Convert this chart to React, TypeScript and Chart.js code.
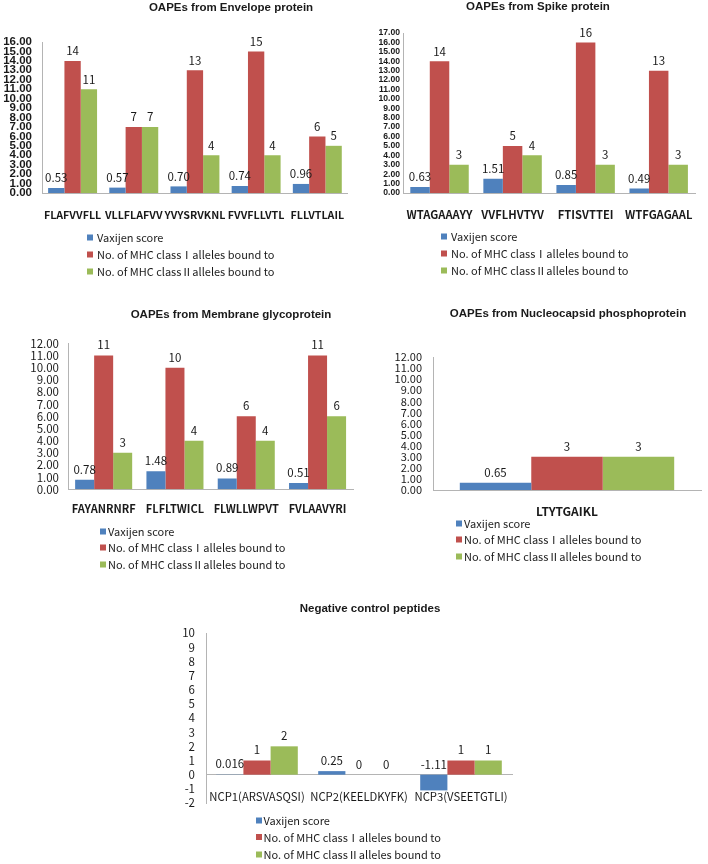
import React, { useEffect, useRef } from 'react';
import { Chart, registerables } from 'chart.js';

Chart.register(...registerables);

// ---------------- DATA ----------------
const seriesNames = [
  'Vaxijen score',
  'No. of MHC classⅠalleles bound to',
  'No. of MHC classⅡalleles bound to',
];

const envelopeCategories = ['FLAFVVFLL', 'VLLFLAFVV', 'YVYSRVKNL', 'FVVFLLVTL', 'FLLVTLAIL'];
const envelopeVaxijen = [0.53, 0.57, 0.7, 0.74, 0.96];
const envelopeMhc1 = [14, 7, 13, 15, 6];
const envelopeMhc2 = [11, 7, 4, 4, 5];
const envelopeYRange = [0, 16];

const spikeCategories = ['WTAGAAAYY', 'VVFLHVTYV', 'FTISVTTEI', 'WTFGAGAAL'];
const spikeVaxijen = [0.63, 1.51, 0.85, 0.49];
const spikeMhc1 = [14, 5, 16, 13];
const spikeMhc2 = [3, 4, 3, 3];
const spikeYRange = [0, 17];

const membraneCategories = ['FAYANRNRF', 'FLFLTWICL', 'FLWLLWPVT', 'FVLAAVYRI'];
const membraneVaxijen = [0.78, 1.48, 0.89, 0.51];
const membraneMhc1 = [11, 10, 6, 11];
const membraneMhc2 = [3, 4, 4, 6];
const membraneYRange = [0, 12];

const nucleoCategories = ['LTYTGAIKL'];
const nucleoVaxijen = [0.65];
const nucleoMhc1 = [3];
const nucleoMhc2 = [3];
const nucleoYRange = [0, 12];

const controlCategories = ['NCP1(ARSVASQSI)', 'NCP2(KEELDKYFK)', 'NCP3(VSEETGTLI)'];
const controlVaxijen = [0.016, 0.25, -1.11];
const controlMhc1 = [1, 0, 1];
const controlMhc2 = [2, 0, 1];
const controlYRange = [-2, 10];

// ---------------- STYLE ----------------
const COLORS = ['#4F81BD', '#C0504D', '#9BBB59'];
const TEXT = '#1a1a1a';
const AXIS = '#b4b4b4';
const CJK = '"Noto Sans CJK KR", "Noto Sans", sans-serif';
const ARIAL = '"Liberation Sans", Arial, sans-serif';

type Panel = {
  key: string;
  title: string;
  categories: string[];
  series: number[][];
  yRange: number[];
  yDecimals: number;
  vaxFormat: (v: number) => string;
  zeroAxis: boolean;
  canvas: { x: number; y: number; w: number; h: number };
  plot: { l: number; t: number; r: number; b: number };
  titleX: number;
  titleY: number;
  yFont: { family: string; size: number; weight: string };
  yPad: number;
  catFont: { family: string; size: number; weight: string };
  catY: number;
  dataFont: number;
  labelGap: number;
  legend: { boxX: number; textX: number; rows: number[] };
  legendFont: number;
};

const fixed2 = (v: number) => v.toFixed(2);
const plain = (v: number) => String(v);

const panels: Panel[] = [
  {
    key: 'envelope',
    title: 'OAPEs from Envelope protein',
    categories: envelopeCategories,
    series: [envelopeVaxijen, envelopeMhc1, envelopeMhc2],
    yRange: envelopeYRange,
    yDecimals: 2,
    vaxFormat: fixed2,
    zeroAxis: false,
    canvas: { x: 0, y: 0, w: 360, h: 285 },
    plot: { l: 42, t: 42, r: 357, b: 193 },
    titleX: 231,
    titleY: 8,
    yFont: { family: ARIAL, size: 11.5, weight: 'bold' },
    yPad: 10,
    catFont: { family: CJK, size: 10.7, weight: 'bold' },
    catY: 215,
    dataFont: 11.5,
    labelGap: 10,
    legend: { boxX: 87, textX: 97, rows: [238, 255, 272] },
    legendFont: 11,
  },
  {
    key: 'spike',
    title: 'OAPEs from Spike protein',
    categories: spikeCategories,
    series: [spikeVaxijen, spikeMhc1, spikeMhc2],
    yRange: spikeYRange,
    yDecimals: 2,
    vaxFormat: fixed2,
    zeroAxis: false,
    canvas: { x: 360, y: 0, w: 348, h: 285 },
    plot: { l: 403, t: 33, r: 705, b: 193 },
    titleX: 538,
    titleY: 7,
    yFont: { family: ARIAL, size: 8.6, weight: 'bold' },
    yPad: 3,
    catFont: { family: CJK, size: 11.2, weight: 'bold' },
    catY: 215,
    dataFont: 11.5,
    labelGap: 10,
    legend: { boxX: 441, textX: 451, rows: [237, 254, 271] },
    legendFont: 11,
  },
  {
    key: 'membrane',
    title: 'OAPEs from Membrane glycoprotein',
    categories: membraneCategories,
    series: [membraneVaxijen, membraneMhc1, membraneMhc2],
    yRange: membraneYRange,
    yDecimals: 2,
    vaxFormat: fixed2,
    zeroAxis: false,
    canvas: { x: 0, y: 290, w: 360, h: 285 },
    plot: { l: 68, t: 343.3, r: 356, b: 489.3 },
    titleX: 231,
    titleY: 315,
    yFont: { family: CJK, size: 11.5, weight: 'normal' },
    yPad: 9,
    catFont: { family: CJK, size: 11, weight: 'bold' },
    catY: 509,
    dataFont: 11.5,
    labelGap: 10.5,
    legend: { boxX: 100, textX: 108, rows: [532, 548, 565] },
    legendFont: 11,
  },
  {
    key: 'nucleo',
    title: 'OAPEs from Nucleocapsid phosphoprotein',
    categories: nucleoCategories,
    series: [nucleoVaxijen, nucleoMhc1, nucleoMhc2],
    yRange: nucleoYRange,
    yDecimals: 2,
    vaxFormat: fixed2,
    zeroAxis: false,
    canvas: { x: 360, y: 290, w: 348, h: 285 },
    plot: { l: 433, t: 357, r: 701, b: 490 },
    titleX: 568,
    titleY: 314,
    yFont: { family: CJK, size: 11, weight: 'normal' },
    yPad: 11,
    catFont: { family: CJK, size: 12, weight: 'bold' },
    catY: 511,
    dataFont: 11.5,
    labelGap: 10.5,
    legend: { boxX: 456, textX: 464, rows: [524, 540, 557] },
    legendFont: 11,
  },
  {
    key: 'control',
    title: 'Negative control peptides',
    categories: controlCategories,
    series: [controlVaxijen, controlMhc1, controlMhc2],
    yRange: controlYRange,
    yDecimals: 0,
    vaxFormat: plain,
    zeroAxis: true,
    canvas: { x: 100, y: 585, w: 520, h: 279 },
    plot: { l: 206, t: 633, r: 512, b: 803 },
    titleX: 370,
    titleY: 609,
    yFont: { family: CJK, size: 11.5, weight: 'normal' },
    yPad: 11,
    catFont: { family: CJK, size: 11.3, weight: 'normal' },
    catY: 797,
    dataFont: 11.5,
    labelGap: 10.5,
    legend: { boxX: 256, textX: 263.5, rows: [821, 837.5, 855] },
    legendFont: 11,
  },
];

function makeOverlay(p: Panel) {
  return {
    id: 'overlay_' + p.key,
    afterDatasetsDraw(chart: any) {
      const ctx = chart.ctx;
      ctx.save();
      ctx.font = `${p.dataFont}px ${CJK}`;
      ctx.fillStyle = TEXT;
      ctx.textAlign = 'center';
      ctx.textBaseline = 'middle';
      chart.data.datasets.forEach((ds: any, i: number) => {
        const meta = chart.getDatasetMeta(i);
        meta.data.forEach((el: any, j: number) => {
          const v = ds.data[j] as number;
          const txt = i === 0 ? p.vaxFormat(v) : String(v);
          const top = Math.min(el.y, el.base);
          ctx.fillText(txt, el.x, top - p.labelGap);
        });
      });
      ctx.restore();
    },
    afterDraw(chart: any) {
      const ctx = chart.ctx;
      const ox = p.canvas.x;
      const oy = p.canvas.y;
      ctx.save();
      ctx.font = `bold 11.5px ${ARIAL}`;
      ctx.fillStyle = TEXT;
      ctx.textAlign = 'center';
      ctx.textBaseline = 'middle';
      ctx.fillText(p.title, p.titleX - ox, p.titleY - oy);

      ctx.font = `${p.legendFont}px ${CJK}`;
      ctx.textAlign = 'left';
      seriesNames.forEach((name, i) => {
        const y = p.legend.rows[i] - oy;
        ctx.fillStyle = COLORS[i];
        ctx.fillRect(p.legend.boxX - ox, y - 3.5, 6, 6);
        ctx.fillStyle = TEXT;
        ctx.fillText(name, p.legend.textX - ox, y);
      });
      ctx.restore();
    },
  };
}

function ChartPanel({ p }: { p: Panel }) {
  const ref = useRef<HTMLCanvasElement | null>(null);
  useEffect(() => {
    if (!ref.current) return;
    const c = p.canvas;
    const pl = p.plot;
    const [yMin, yMax] = p.yRange;
    const axisLineY = p.zeroAxis ? pl.b - ((0 - yMin) / (yMax - yMin)) * (pl.b - pl.t) : pl.b;
    const catLine = p.catFont.size * 1.2;
    const catPad = p.catY - axisLineY - catLine / 2;
    const chart = new Chart(ref.current, {
      type: 'bar',
      data: {
        labels: p.categories,
        datasets: p.series.map((d, i) => ({
          label: seriesNames[i],
          data: d,
          backgroundColor: COLORS[i],
          borderWidth: 0,
          categoryPercentage: 0.8,
          barPercentage: 1.0,
        })),
      },
      options: {
        responsive: false,
        animation: false,
        events: [],
        layout: {
          padding: {
            left: 0,
            top: pl.t - c.y,
            right: c.x + c.w - pl.r,
            bottom: p.zeroAxis ? c.y + c.h - pl.b : 0,
          },
        },
        plugins: {
          legend: { display: false },
          title: { display: false },
          tooltip: { enabled: false },
        },
        scales: {
          x: {
            position: p.zeroAxis ? { y: 0 } : 'bottom',
            grid: { display: false, drawTicks: false },
            border: { display: true, color: AXIS, width: 1 },
            ticks: {
              autoSkip: false,
              maxRotation: 0,
              minRotation: 0,
              padding: catPad,
              color: TEXT,
              font: { family: p.catFont.family, size: p.catFont.size, weight: p.catFont.weight as any, lineHeight: 1.2 },
            },
            afterFit: p.zeroAxis
              ? undefined
              : (s: any) => {
                  s.height = c.y + c.h - pl.b;
                },
          } as any,
          y: {
            min: yMin,
            max: yMax,
            grid: { display: false, drawTicks: false },
            border: { display: true, color: AXIS, width: 1 },
            ticks: {
              stepSize: 1,
              autoSkip: false,
              padding: p.yPad,
              color: TEXT,
              font: { family: p.yFont.family, size: p.yFont.size, weight: p.yFont.weight as any, lineHeight: 1.2 },
              callback: (v: any) => Number(v).toFixed(p.yDecimals),
            },
            afterFit: (s: any) => {
              s.width = pl.l - c.x;
            },
          } as any,
        },
      },
      plugins: [makeOverlay(p)],
    });
    return () => chart.destroy();
  }, [p]);
  return (
    <canvas
      ref={ref}
      width={p.canvas.w}
      height={p.canvas.h}
      style={{
        position: 'absolute',
        left: p.canvas.x,
        top: p.canvas.y,
        width: p.canvas.w,
        height: p.canvas.h,
      }}
    />
  );
}

export default function App() {
  return (
    <div
      style={{
        position: 'absolute',
        left: 0,
        top: 0,
        width: 708,
        height: 864,
        background: '#ffffff',
        overflow: 'hidden',
      }}
    >
      {panels.map((p) => (
        <ChartPanel key={p.key} p={p} />
      ))}
    </div>
  );
}
